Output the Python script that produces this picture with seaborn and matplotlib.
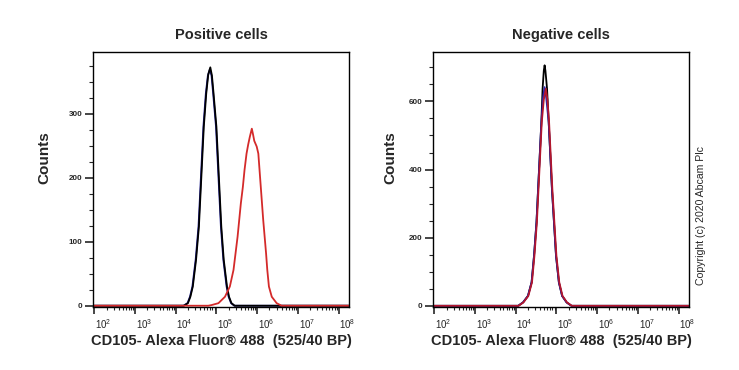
import numpy as np
import pandas as pd
import seaborn as sns
import matplotlib
matplotlib.use("Agg")
import matplotlib.pyplot as plt
from matplotlib.ticker import FixedLocator, FixedFormatter, MultipleLocator
from matplotlib.transforms import ScaledTranslation

sns.set_style("ticks")
plt.rcParams['font.family'] = ['Liberation Sans', 'DejaVu Sans']
plt.rcParams['mathtext.fontset'] = 'custom'
plt.rcParams['mathtext.rm'] = 'Liberation Sans'
plt.rcParams['mathtext.it'] = 'Liberation Sans'
plt.rcParams['mathtext.bf'] = 'Liberation Sans:bold'

## values (x in log10 decades, y = counts)
pos_black_log = [2.0, 4.20, 4.30, 4.36, 4.42, 4.50, 4.57, 4.61, 4.65, 4.69, 4.75, 4.80, 4.85,
                 4.89, 4.93, 5.00, 5.04, 5.08, 5.12, 5.18, 5.26, 5.31, 5.37, 5.45, 8.25]
pos_black_cnt = [0, 0, 4, 14, 30, 72, 124, 176, 228, 280, 332, 362, 373,
                 360, 332, 280, 228, 176, 124, 72, 30, 14, 4, 0, 0]

pos_blue_log = [2.0, 4.19, 4.29, 4.35, 4.41, 4.49, 4.56, 4.60, 4.64, 4.68, 4.74, 4.79, 4.84,
                4.88, 4.92, 4.99, 5.03, 5.07, 5.11, 5.17, 5.25, 5.30, 5.36, 5.44, 8.25]
pos_blue_cnt = [0, 0, 4, 14, 30, 72, 124, 176, 228, 280, 332, 360, 370,
                360, 332, 280, 228, 176, 124, 72, 30, 14, 4, 0, 0]

pos_red_log = [2.0, 4.80, 4.88, 5.05, 5.21, 5.33, 5.42, 5.47, 5.52, 5.56, 5.60, 5.65, 5.69,
               5.74, 5.78, 5.82, 5.87, 5.90, 5.93, 5.99, 6.03, 6.09, 6.15, 6.22, 6.25,
               6.29, 6.36, 6.48, 6.60, 8.25]
pos_red_cnt = [0, 0, 1, 4, 14, 30, 56, 82, 108, 134, 160, 186, 212,
               238, 252, 264, 277, 268, 258, 249, 238, 186, 134, 82, 56,
               30, 14, 4, 0, 0]

neg_black_log = [2.0, 4.06, 4.18, 4.30, 4.39, 4.45, 4.51, 4.55, 4.59, 4.63, 4.66, 4.69, 4.71,
                 4.73, 4.77, 4.81, 4.85, 4.89, 4.94, 4.99, 5.06, 5.14, 5.25, 5.37, 8.25]
neg_black_cnt = [0, 0, 10, 29, 69, 147, 245, 343, 441, 539, 637, 690, 706,
                 690, 637, 539, 441, 343, 245, 147, 69, 29, 10, 0, 0]

neg_blue_log = [2.0, 4.06, 4.18, 4.30, 4.39, 4.45, 4.51, 4.55, 4.59, 4.63, 4.67, 4.71,
                4.75, 4.81, 4.85, 4.89, 4.94, 4.99, 5.06, 5.14, 5.25, 5.37, 8.25]
neg_blue_cnt = [0, 0, 10, 29, 69, 147, 245, 343, 441, 539, 610, 642,
                610, 539, 441, 343, 245, 147, 69, 29, 10, 0, 0]

neg_red_log = [2.0, 4.07, 4.19, 4.31, 4.40, 4.46, 4.52, 4.56, 4.60, 4.64, 4.69, 4.74,
               4.78, 4.82, 4.86, 4.90, 4.95, 5.00, 5.07, 5.15, 5.26, 5.38, 8.25]
neg_red_cnt = [0, 0, 10, 29, 69, 147, 245, 343, 441, 539, 605, 637,
               605, 539, 441, 343, 245, 147, 69, 29, 10, 0, 0]

panels = [
    ("Positive cells", [(pos_blue_log, pos_blue_cnt, "#1c1c8c"),
                        (pos_black_log, pos_black_cnt, "#000000"),
                        (pos_red_log, pos_red_cnt, "#d42a2a")],
     (-2, 397), 100, 25),
    ("Negative cells", [(neg_black_log, neg_black_cnt, "#000000"),
                        (neg_blue_log, neg_blue_cnt, "#2a20a8"),
                        (neg_red_log, neg_red_cnt, "#b3162c")],
     (-3.5, 745), 200, 50),
]

xlabel = "CD105- Alexa Fluor\u00ae 488  (525/40 BP)"
decades = [2, 3, 4, 5, 6, 7, 8]

fig = plt.figure(figsize=(7.39, 3.70), dpi=100)
lefts = [93.3 / 739, 433.3 / 739]
for (title, series, ylim, major, minor), left in zip(panels, lefts):
    ax = fig.add_axes([left, 1 - 307 / 370, 256 / 739, 255 / 370])
    for lx, cnt, col in series:
        df = pd.DataFrame({"x": 10.0 ** np.array(lx), "y": cnt})
        sns.lineplot(data=df, x="x", y="y", color=col, lw=1.3, ax=ax, sort=False)
    ax.set_xscale("log")
    ax.set_xlim(10 ** 1.975, 10 ** 8.265)
    ax.set_ylim(*ylim)

    ax.xaxis.set_major_locator(FixedLocator([10.0 ** d for d in decades]))
    ax.xaxis.set_major_formatter(FixedFormatter([r"$10^{%d}$" % d for d in decades]))
    ax.xaxis.set_minor_locator(FixedLocator([m * 10.0 ** d for d in range(1, 9) for m in range(2, 10)]))
    ax.yaxis.set_major_locator(MultipleLocator(major))
    ax.yaxis.set_minor_locator(MultipleLocator(minor))
    ax.set_yticks([t for t in ax.get_yticks(minor=True) if 0 <= t < ylim[1] - 10], minor=True)
    ax.set_yticks([t for t in range(0, int(ylim[1]), major)])

    ax.tick_params(axis="x", which="major", length=5, width=1.2, labelsize=7, pad=2.5, direction="out")
    ax.tick_params(axis="x", which="minor", length=2.5, width=0.8, direction="out")
    ax.tick_params(axis="y", which="major", length=6, width=1.2, labelsize=5.8, pad=2, direction="out")
    ax.tick_params(axis="y", which="minor", length=3, width=0.8, direction="out")
    for lab in ax.get_yticklabels():
        lab.set_fontweight("bold")
    for lab in ax.get_xticklabels():
        lab.set_transform(lab.get_transform() + ScaledTranslation(6.5 / 72, 0, fig.dpi_scale_trans))

    for sp in ax.spines.values():
        sp.set_visible(True)
        sp.set_linewidth(1.0)
        sp.set_color("black")

    ax.set_xlabel(xlabel, fontsize=10.5, fontweight="bold")
    ax.xaxis.set_label_coords(0.5, -0.133)
    ax.xaxis.label.set_va("center")
    ax.set_ylabel("Counts", fontsize=11, fontweight="bold")
    ax.yaxis.label.set_va("center")
    ax.text(0.5, 1.067, title, transform=ax.transAxes, ha="center", va="center",
            fontsize=10.5, fontweight="bold")

fig.axes[0].yaxis.set_label_coords(-0.193, 0.585)
fig.axes[1].yaxis.set_label_coords(-0.169, 0.585)

fig.text(701 / 739, 1 - 216 / 370, "Copyright (c) 2020 Abcam Plc", rotation=90,
         ha="center", va="center", fontsize=7.6)

plt.savefig("out.png", dpi=100)
